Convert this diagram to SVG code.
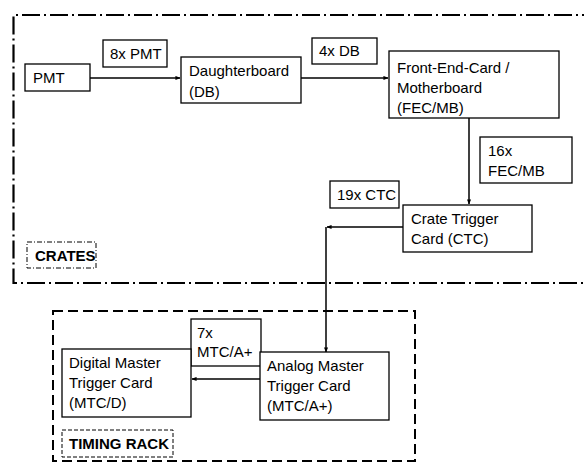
<svg xmlns="http://www.w3.org/2000/svg" width="584" height="466" viewBox="0 0 584 466">
<style>
text{font-family:"Liberation Sans",Arial,sans-serif;font-size:15px;fill:#000}
.b{fill:#fff;stroke:#000;stroke-width:1.3}
.lb{font-weight:bold}
.c{fill:none;stroke:#000;stroke-width:1.5}
</style>
<defs>
<marker id="ah" viewBox="0 0 6 6" refX="5.5" refY="3" markerWidth="5" markerHeight="5" orient="auto" markerUnits="userSpaceOnUse"><path d="M0,0.5 L6,3 L0,5.5 Z" fill="#000"/></marker>
</defs>
<rect width="584" height="466" fill="#fff"/>
<g id="crates">
<path d="M600,15 H13.5 V283 H600" fill="none" stroke="#000" stroke-width="2.2" stroke-dasharray="18 4 2 4"/>
<rect x="27" y="242" width="69" height="26" fill="none" stroke="#000" stroke-width="1" stroke-dasharray="5 2 1 2"/>
<text x="35" y="261" class="lb">CRATES</text>
</g>
<g id="timing-rack">
<rect x="53" y="311" width="362" height="150" fill="none" stroke="#000" stroke-width="2" stroke-dasharray="10 5"/>
<rect x="62" y="430" width="111" height="27" fill="none" stroke="#000" stroke-width="1" stroke-dasharray="4 2"/>
<text x="69" y="449" class="lb">TIMING RACK</text>
</g>
<g id="connectors">
<path class="c" d="M90,78 H180" marker-end="url(#ah)"/>
<path class="c" d="M301,78 H388" marker-end="url(#ah)"/>
<path class="c" d="M469,118 V204" marker-end="url(#ah)"/>
<path class="c" d="M403,227 H327" marker-end="url(#ah)"/>
<path class="c" d="M326,227 V352" marker-end="url(#ah)"/>
<path class="c" d="M260,379 H192" marker-end="url(#ah)"/>
</g>
<g id="pmt">
<rect class="b" x="25" y="64" width="65" height="27"/>
<text x="33" y="83">PMT</text>
</g>
<g id="lbl-8xpmt">
<rect class="b" x="103" y="40" width="64" height="27"/>
<text x="110" y="59">8x PMT</text>
</g>
<g id="db">
<rect class="b" x="181" y="57" width="120" height="46"/>
<text x="189" y="76">Daughterboard</text>
<text x="189" y="97">(DB)</text>
</g>
<g id="lbl-4xdb">
<rect class="b" x="312" y="38" width="65" height="26"/>
<text x="319" y="56">4x DB</text>
</g>
<g id="fec">
<rect class="b" x="389" y="51" width="170" height="67"/>
<text x="397" y="73">Front-End-Card /</text>
<text x="397" y="93">Motherboard</text>
<text x="397" y="113">(FEC/MB)</text>
</g>
<g id="lbl-16x">
<rect class="b" x="480" y="137" width="92" height="46"/>
<text x="488" y="156">16x</text>
<text x="488" y="176">FEC/MB</text>
</g>
<g id="lbl-19x">
<rect class="b" x="330" y="181" width="69" height="27"/>
<text x="337" y="200">19x CTC</text>
</g>
<g id="ctc">
<rect class="b" x="403" y="205" width="129" height="47"/>
<text x="411" y="224">Crate Trigger</text>
<text x="411" y="244">Card (CTC)</text>
</g>
<g id="lbl-7x">
<rect class="b" x="191" y="319" width="70" height="47"/>
<text x="197" y="338">7x</text>
<text x="197" y="357">MTC/A+</text>
</g>
<g id="mtcd">
<rect class="b" x="62" y="349" width="129" height="68"/>
<text x="69" y="368">Digital Master</text>
<text x="69" y="388">Trigger Card</text>
<text x="69" y="408">(MTC/D)</text>
</g>
<g id="mtca">
<rect class="b" x="260" y="352" width="129" height="68"/>
<text x="267" y="371">Analog Master</text>
<text x="267" y="391">Trigger Card</text>
<text x="267" y="411">(MTC/A+)</text>
</g>
</svg>
